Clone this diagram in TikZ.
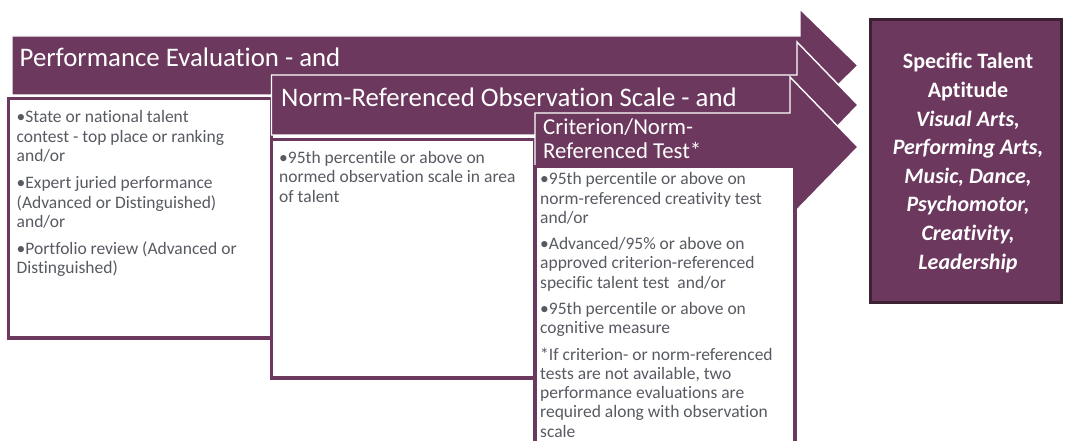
\documentclass[tikz,border=0pt]{standalone}
\usepackage{fontspec}
\setmainfont{Carlito}[Ligatures={NoCommon,NoContextual}]
\definecolor{plum}{RGB}{108,56,94}
\definecolor{plumdark}{RGB}{60,33,51}
\definecolor{bodygray}{RGB}{88,90,98}
\newcommand{\tline}[1]{\hbox{#1}}
\newcommand{\pgap}{\vskip 7pt}
\begin{document}
\begin{tikzpicture}[x=1pt,y=-1pt,
  arrowshape/.style={fill=plum, draw=white, line width=1.4pt, line join=miter},
  listbox/.style={fill=white, draw=plum, line width=3.4pt},
  headtext/.style={text=white, font=\fontsize{26.8}{28}\selectfont, anchor=base west, inner sep=0pt},
  subhead/.style={text=white, font=\fontsize{22.8}{23.3}\selectfont, anchor=base west, inner sep=0pt},
  bodytext/.style={text=bodygray, font=\fontsize{17.5}{19.6}\selectfont, anchor=base west, inner sep=0pt},
  resultbox/.style={fill=plum, draw=plumdark, line width=3pt},
  resulttext/.style={text=white, align=center, font=\fontsize{22}{28.6}\selectfont\bfseries, inner sep=0pt}
]
\clip (0,0) rectangle (1071,441);
% group 1
\path[arrowshape] (12,36) -- (800,36) -- (800,9) -- (858,65.5) -- (800,122) -- (800,95) -- (12,95) -- cycle;
\node[headtext] (h1) at (19.5,66.7) {Performance Evaluation - and};
\draw[listbox] (8.5,98.5) rectangle (271.5,338);
\node[bodytext] (b1) at (16.5,122.7) {\vtop{%
  \tline{•State or national talent}
  \tline{contest - top place or ranking}
  \tline{and/or}\pgap
  \tline{•Expert juried performance}
  \tline{(Advanced or Distinguished)}
  \tline{and/or}\pgap
  \tline{•Portfolio review (Advanced or}
  \tline{Distinguished)}}};
% group 2
\path[arrowshape] (271.5,75) -- (797,75) -- (797,42) -- (858,105) -- (797,168) -- (797,135) -- (271.5,135) -- cycle;
\node[headtext] (h2) at (281,107) {Norm-Referenced Observation Scale - and};
\draw[listbox] (271.5,139.5) rectangle (535,378);
\node[bodytext] (b2) at (279,163.3) {\vtop{%
  \tline{•95th percentile or above on}
  \tline{normed observation scale in area}
  \tline{of talent}}};
% group 3
\path[arrowshape] (535,113) -- (790,113) -- (790,77) -- (858,147) -- (790,217) -- (790,181) -- (535,181) -- cycle;
\node[subhead] (h3) at (543,135) {\vtop{%
  \tline{Criterion/Norm-}
  \tline{Referenced Test*}}};
\draw[listbox] (535,166.5) rectangle (795,470);
\node[bodytext, font=\fontsize{17.5}{19.1}\selectfont] (b3) at (540,185) {\vtop{%
  \tline{•95th percentile or above on}
  \tline{norm-referenced creativity test}
  \tline{and/or}\vskip 7.6pt
  \tline{•Advanced/95\% or above on}
  \tline{approved criterion-referenced}
  \tline{specific talent test\ \ and/or}\vskip 7.6pt
  \tline{•95th percentile or above on}
  \tline{cognitive measure}\vskip 7.6pt
  \tline{*If criterion- or norm-referenced}
  \tline{tests are not available, two}
  \tline{performance evaluations are}
  \tline{required along with observation}
  \tline{scale}}};
% result
\draw[resultbox] (870.5,19.5) rectangle (1061,302.5);
\node[resulttext] (r) at (968,163) {Specific Talent\\Aptitude\\\textit{Visual Arts,}\\\textit{Performing Arts,}\\\textit{Music, Dance,}\\\textit{Psychomotor,}\\\textit{Creativity,}\\\textit{Leadership}};
\end{tikzpicture}
\end{document}
